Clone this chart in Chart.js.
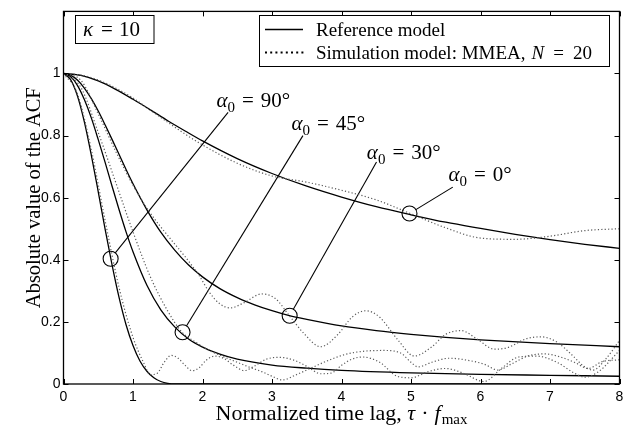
<!DOCTYPE html>
<html lang="en">
<head>
<meta charset="UTF-8">
<title>ACF, kappa = 10</title>
<script src="https://cdn.jsdelivr.net/npm/chart.js"></script>
<style>
  body { margin: 0; background: #fff; }
  #wrap { width: 634px; height: 429px; }
</style>
</head>
<body>
<div id="wrap"><canvas id="acfChart" width="634" height="429"></canvas></div>
<script>
// axis ticks
const xTickValues = [0, 1, 2, 3, 4, 5, 6, 7, 8];
const yTickValues = [0, 0.2, 0.4, 0.6, 0.8, 1];

// reference model (solid)
const refT0 = [0, 0.25, 0.5, 0.75, 1, 1.25, 1.5, 1.75, 2, 2.5, 3, 3.5, 4, 4.5, 5, 5.5, 6, 6.5, 7, 7.5, 8];
const refV0 = [1, 0.994, 0.976, 0.949, 0.917, 0.883, 0.848, 0.815, 0.783, 0.726, 0.678, 0.637, 0.602, 0.571, 0.545, 0.521, 0.501, 0.482, 0.465, 0.450, 0.437];

const refT30 = [0, 0.1, 0.2, 0.3, 0.4, 0.5, 0.6, 0.7, 0.8, 0.9, 1, 1.2, 1.4, 1.6, 1.8, 2, 2.25, 2.5, 2.75, 3, 3.25, 3.5, 4, 4.5, 5, 5.5, 6, 7, 8];
const refV30 = [1, 0.995, 0.979, 0.953, 0.919, 0.879, 0.834, 0.787, 0.739, 0.691, 0.645, 0.561, 0.489, 0.431, 0.383, 0.345, 0.307, 0.278, 0.255, 0.236, 0.220, 0.208, 0.187, 0.172, 0.160, 0.150, 0.142, 0.130, 0.120];

const refT45 = [0, 0.1, 0.2, 0.3, 0.4, 0.5, 0.6, 0.7, 0.8, 0.9, 1, 1.2, 1.4, 1.6, 1.8, 2, 2.25, 2.5, 3, 3.5, 4, 5, 6, 7, 8];
const refV45 = [1, 0.990, 0.962, 0.916, 0.857, 0.787, 0.713, 0.636, 0.561, 0.490, 0.426, 0.318, 0.239, 0.184, 0.145, 0.119, 0.096, 0.080, 0.061, 0.051, 0.044, 0.036, 0.031, 0.028, 0.025];

const refT90 = [0, 0.1, 0.2, 0.3, 0.4, 0.5, 0.6, 0.7, 0.8, 0.9, 1, 1.1, 1.2, 1.3, 1.4, 1.5, 1.6, 1.8, 8];
const refV90 = [1, 0.981, 0.928, 0.844, 0.737, 0.619, 0.497, 0.382, 0.278, 0.191, 0.124, 0.074, 0.041, 0.020, 0.008, 0.002, 0, 0, 0];

// simulation model, MMEA N = 20 (dotted)
const simT0 = [0, 0.25, 0.5, 0.75, 1, 1.25, 1.5, 1.75, 2, 2.5, 3, 3.5, 4, 4.5, 5, 5.5, 6, 6.5, 7, 7.5, 8];
const simV0 = [1, 0.995, 0.979, 0.953, 0.921, 0.882, 0.843, 0.805, 0.770, 0.711, 0.670, 0.650, 0.624, 0.593, 0.548, 0.503, 0.470, 0.466, 0.476, 0.494, 0.500];

const simT30 = [0, 0.25, 0.5, 0.75, 1, 1.25, 1.5, 1.75, 1.95, 2.1, 2.25, 2.4, 2.6, 2.85, 3.05, 3.25, 3.45, 3.7, 3.95, 4.15, 4.35, 4.55, 4.8, 5.05, 5.3, 5.5, 5.72, 5.95, 6.2, 6.4, 6.65, 6.87, 7.1, 7.3, 7.5, 7.62, 7.8, 8];
const simV30 = [1, 0.978, 0.87, 0.75, 0.64, 0.55, 0.478, 0.41, 0.35, 0.295, 0.258, 0.245, 0.262, 0.29, 0.275, 0.22, 0.165, 0.12, 0.16, 0.215, 0.236, 0.215, 0.145, 0.09, 0.12, 0.16, 0.172, 0.145, 0.112, 0.118, 0.145, 0.152, 0.135, 0.097, 0.055, 0.045, 0.08, 0.14];

const simT45 = [0, 0.25, 0.5, 0.75, 1, 1.25, 1.5, 1.7, 1.9, 2.1, 2.3, 2.5, 2.7, 2.85, 3, 3.15, 3.35, 3.55, 3.8, 4.05, 4.3, 4.6, 4.85, 5, 5.1, 5.3, 5.55, 5.8, 6.05, 6.25, 6.45, 6.68, 6.92, 7.15, 7.35, 7.55, 7.75, 8];
const simV45 = [1, 0.955, 0.81, 0.65, 0.49, 0.345, 0.235, 0.168, 0.135, 0.108, 0.088, 0.07, 0.052, 0.04, 0.025, 0.013, 0.03, 0.05, 0.075, 0.095, 0.105, 0.108, 0.1, 0.07, 0.055, 0.07, 0.083, 0.077, 0.064, 0.045, 0.065, 0.09, 0.097, 0.087, 0.07, 0.05, 0.072, 0.078];

const simT90 = [0, 0.2, 0.4, 0.6, 0.8, 1, 1.15, 1.25, 1.35, 1.45, 1.55, 1.65, 1.75, 1.85, 1.95, 2.05, 2.18, 2.3, 2.45, 2.6, 2.75, 2.92, 3.1, 3.3, 3.5, 3.7, 3.85, 4, 4.15, 4.3, 4.55, 4.8, 5, 5.25, 5.5, 5.75, 6.05, 6.3, 6.55, 6.8, 7.1, 7.35, 7.5, 7.7, 8];
const simV90 = [1, 0.935, 0.755, 0.525, 0.31, 0.15, 0.07, 0.03, 0.035, 0.07, 0.092, 0.083, 0.06, 0.043, 0.052, 0.076, 0.09, 0.083, 0.06, 0.043, 0.058, 0.08, 0.086, 0.078, 0.057, 0.033, 0.035, 0.06, 0.08, 0.087, 0.07, 0.025, 0.02, 0.04, 0.05, 0.035, 0.008, 0.05, 0.087, 0.09, 0.07, 0.035, 0.022, 0.04, 0.108];

// circled points and their labels (alpha_0 in degrees)
const markT = [0.678, 1.713, 3.254, 4.978];
const markV = [0.4035, 0.1666, 0.2197, 0.549];
const markDeg = ['90', '45', '30', '0'];
// leader lines: circle edge -> label
const leadT = [[0.745, 2.368], [1.769, 3.445], [3.307, 4.504], [5.07, 5.601]];
const leadV = [[0.422, 0.875], [0.187, 0.800], [0.2406, 0.715], [0.5615, 0.634]];
// label anchor (left, baseline)
const labelT = [2.201, 3.279, 4.365, 5.539];
const labelV = [0.892, 0.819, 0.724, 0.655];

const SERIF = '"Liberation Serif", "DejaVu Serif", serif';
const SANS = '"Liberation Sans", Arial, sans-serif';

const toXY = (ts, vs) => ts.map((t, i) => ({ x: t, y: vs[i] }));

function solidSet(ts, vs) {
    return {
        data: toXY(ts, vs),
        borderColor: '#000',
        borderWidth: 1.3,
        pointRadius: 0,
        cubicInterpolationMode: 'monotone',
        fill: false
    };
}

function dottedSet(ts, vs) {
    return {
        data: toXY(ts, vs),
        borderColor: '#5a5a5a',
        borderWidth: 1.2,
        borderDash: [1.2, 2.2],
        pointRadius: 0,
        cubicInterpolationMode: 'monotone',
        fill: false
    };
}

const datasets = [
    dottedSet(simT0, simV0),
    dottedSet(simT30, simV30),
    dottedSet(simT45, simV45),
    dottedSet(simT90, simV90),
    solidSet(refT0, refV0),
    solidSet(refT30, refV30),
    solidSet(refT45, refV45),
    solidSet(refT90, refV90),
    {
        data: toXY(markT, markV),
        showLine: false,
        pointRadius: 7.5,
        pointBorderColor: '#000',
        pointBackgroundColor: 'rgba(0,0,0,0)',
        pointBorderWidth: 1.1
    }
];
leadT.forEach((ts, i) => {
    datasets.push({
        data: toXY(ts, leadV[i]),
        borderColor: '#000',
        borderWidth: 1.1,
        pointRadius: 0,
        tension: 0
    });
});

// draws a sequence of text pieces (for subscripts / italics)
function drawRuns(ctx, x, y, runs) {
    runs.forEach(r => {
        x += r.gap || 0;
        ctx.font = r.font;
        ctx.fillText(r.text, x, y + (r.dy || 0));
        x += ctx.measureText(r.text).width;
    });
    return x;
}
function runsWidth(ctx, runs) {
    let w = 0;
    runs.forEach(r => {
        ctx.font = r.font;
        w += (r.gap || 0) + ctx.measureText(r.text).width;
    });
    return w;
}

const decor = {
    id: 'decor',
    afterDraw(chart) {
        const { ctx, chartArea: a, scales: { x, y } } = chart;
        ctx.save();
        ctx.strokeStyle = '#000';
        ctx.fillStyle = '#000';

        // axes box + inward ticks
        ctx.lineWidth = 1.3;
        ctx.strokeRect(a.left, a.top, a.right - a.left, a.bottom - a.top);
        ctx.lineWidth = 1;
        ctx.beginPath();
        xTickValues.forEach(v => {
            const px = Math.round(x.getPixelForValue(v)) + 0.5;
            ctx.moveTo(px, a.bottom); ctx.lineTo(px, a.bottom - 5);
            ctx.moveTo(px, a.top); ctx.lineTo(px, a.top + 5);
        });
        yTickValues.forEach(v => {
            const py = Math.round(y.getPixelForValue(v)) + 0.5;
            ctx.moveTo(a.left, py); ctx.lineTo(a.left + 5, py);
            ctx.moveTo(a.right, py); ctx.lineTo(a.right - 5, py);
        });
        ctx.stroke();

        ctx.textBaseline = 'alphabetic';
        ctx.textAlign = 'left';

        // y title
        ctx.save();
        ctx.translate(40, (a.top + a.bottom) / 2);
        ctx.rotate(-Math.PI / 2);
        ctx.textAlign = 'center';
        ctx.font = `20.5px ${SERIF}`;
        ctx.fillText('Absolute value of the ACF', 0, 0);
        ctx.restore();

        // x title
        const xRuns = [
            { text: 'Normalized time lag, ', font: `22px ${SERIF}` },
            { text: 'τ', font: `italic 22px ${SERIF}` },
            { text: '·', font: `22px ${SERIF}`, gap: 6 },
            { text: 'f', font: `italic 22px ${SERIF}`, gap: 6 },
            { text: 'max', font: `15px ${SERIF}`, dy: 4, gap: 1 }
        ];
        const xw = runsWidth(ctx, xRuns);
        drawRuns(ctx, (a.left + a.right) / 2 - xw / 2, 420, xRuns);

        // kappa box
        ctx.fillStyle = '#fff';
        ctx.fillRect(75.5, 15.5, 78.5, 28);
        ctx.strokeRect(75.5, 15.5, 78.5, 28);
        ctx.fillStyle = '#000';
        drawRuns(ctx, 83, 36, [
            { text: 'κ', font: `italic 21px ${SERIF}` },
            { text: '=', font: `21px ${SERIF}`, gap: 8 },
            { text: '10', font: `21px ${SERIF}`, gap: 6 }
        ]);

        // legend
        ctx.fillStyle = '#fff';
        ctx.fillRect(259.5, 15.5, 350, 51);
        ctx.strokeRect(259.5, 15.5, 350, 51);
        ctx.fillStyle = '#000';
        ctx.lineWidth = 1.3;
        ctx.beginPath(); ctx.moveTo(265, 29.5); ctx.lineTo(303, 29.5); ctx.stroke();
        ctx.save();
        ctx.lineWidth = 2;
        ctx.setLineDash([2, 3.2]);
        ctx.beginPath(); ctx.moveTo(265, 52.5); ctx.lineTo(304, 52.5); ctx.stroke();
        ctx.restore();
        ctx.font = `19px ${SERIF}`;
        ctx.fillText('Reference model', 316, 36);
        drawRuns(ctx, 316, 59, [
            { text: 'Simulation model: MMEA,', font: `19px ${SERIF}` },
            { text: 'N', font: `italic 19px ${SERIF}`, gap: 6 },
            { text: '=', font: `19px ${SERIF}`, gap: 9 },
            { text: '20', font: `19px ${SERIF}`, gap: 9 }
        ]);

        // alpha_0 labels
        markDeg.forEach((deg, i) => {
            const lx = x.getPixelForValue(labelT[i]);
            const ly = y.getPixelForValue(labelV[i]);
            drawRuns(ctx, lx, ly, [
                { text: 'α', font: `italic 21px ${SERIF}` },
                { text: '0', font: `15px ${SERIF}`, dy: 5 },
                { text: '=', font: `21px ${SERIF}`, gap: 7 },
                { text: deg + '°', font: `21px ${SERIF}`, gap: 7 }
            ]);
        });
        ctx.restore();
    }
};

new Chart(document.getElementById('acfChart'), {
    type: 'line',
    data: { datasets },
    options: {
        responsive: false,
        animation: false,
        layout: { padding: { top: 6, right: 14.5, left: 0, bottom: 0 } },
        plugins: { legend: { display: false }, tooltip: { enabled: false } },
        scales: {
            x: {
                type: 'linear',
                min: 0,
                max: 8,
                afterBuildTicks: axis => { axis.ticks = xTickValues.map(v => ({ value: v })); },
                afterFit: scale => { scale.height = 45; },
                grid: { display: false, drawTicks: false },
                border: { display: false },
                ticks: {
                    color: '#000',
                    padding: 5,
                    maxRotation: 0,
                    font: { family: SANS, size: 14 },
                    callback: v => String(v)
                }
            },
            y: {
                type: 'linear',
                min: 0,
                max: 1.2,
                afterBuildTicks: axis => { axis.ticks = yTickValues.map(v => ({ value: v })); },
                afterFit: scale => { scale.width = 63.5; },
                grid: { display: false, drawTicks: false },
                border: { display: false },
                ticks: {
                    color: '#000',
                    padding: 3,
                    font: { family: SANS, size: 14 },
                    callback: v => String(v)
                }
            }
        }
    },
    plugins: [decor]
});
</script>
</body>
</html>
